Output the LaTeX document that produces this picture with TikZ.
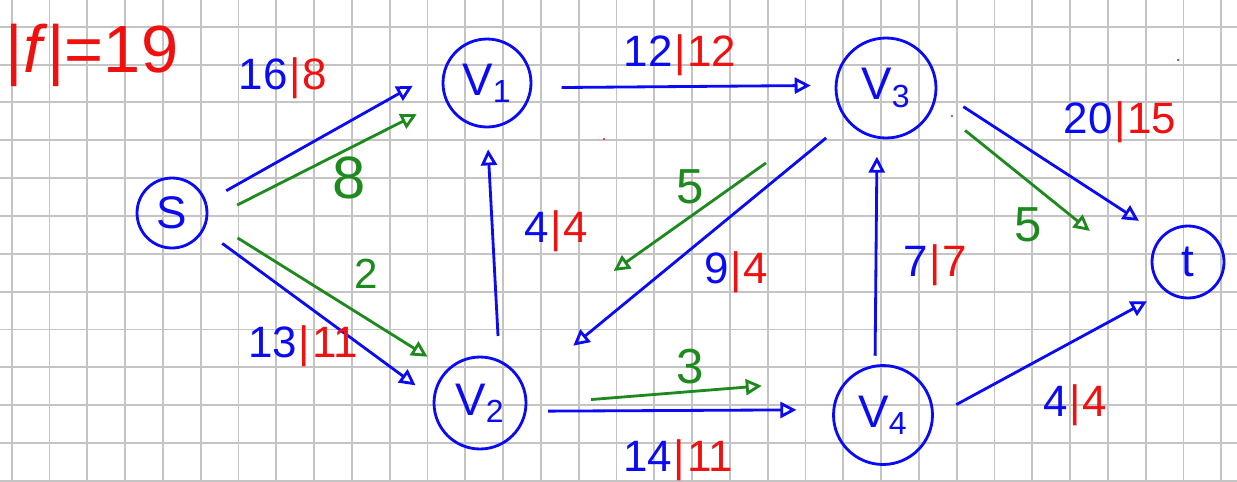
\documentclass[tikz,border=0pt]{standalone}
\usepackage{fontspec}
\setmainfont{Liberation Sans}
\usetikzlibrary{arrows.meta}
\definecolor{capblue}{HTML}{0A0AF5}
\definecolor{flowred}{HTML}{F01010}
\definecolor{augreen}{HTML}{1E8A1E}
\definecolor{gridgray}{HTML}{C4C4C4}
\newcommand{\capflow}[2]{\textcolor{capblue}{#1}\textcolor{flowred}{\kern1pt|\kern1pt#2}}
\tikzset{
  vertex/.style={circle, draw=capblue, line width=1.6pt, text=capblue, inner sep=0pt, font=\fontsize{26}{26}\selectfont},
  capedge/.style={-{Triangle[open, length=3.2mm, width=3.2mm]}, line width=1.6pt, color=capblue},
  flowedge/.style={-{Triangle[open, length=3.2mm, width=3.2mm]}, line width=1.6pt, color=augreen},
  gridline/.style={line width=1.1pt, color=gridgray},
  caplabel/.style={font=\fontsize{25}{25}\selectfont},
  flowlabel/.style={text=augreen, font=\fontsize{28}{28}\selectfont}
}

\begin{document}
\begin{tikzpicture}[x=0.02cm, y=-0.02cm]
\useasboundingbox (0,0) rectangle (1237,481);
\fill[white] (0,0) rectangle (1237,481);
\foreach \i in {0,...,32} \draw[gridline] ({11.7+37.8*\i},0) -- ({11.7+37.8*\i},481);
\foreach \j in {0,...,12} \draw[gridline] (0,{26.7+37.85*\j}) -- (1237,{26.7+37.85*\j});

\node[vertex, minimum size=1.4cm] (s) at (172,213) {S};
\node[vertex, minimum size=1.76cm] (v1) at (487,83) {V\textsubscript{1}};
\node[vertex, minimum size=1.84cm] (v2) at (480,403) {V\textsubscript{2}};
\node[vertex, minimum size=2cm] (v3) at (886,88) {V\textsubscript{3}};
\node[vertex, minimum size=1.98cm] (v4) at (883,415) {V\textsubscript{4}};
\node[vertex, minimum size=1.44cm] (t) at (1188,262) {t};

\draw[capedge, shorten <=0.45cm, shorten >=0.72cm] (s.18) -- (v1.161);
\draw[capedge, shorten <=0.45cm, shorten >=0.43cm] (s.-28.5) -- (v2.174.4);
\draw[capedge, shorten <=0.475cm, shorten >=0.42cm] (v2.66.8) -- (v1.-90);
\draw[capedge, shorten <=0.59cm, shorten >=0.48cm] (v1.-6.5) -- (v3.177.7);
\draw[capedge, shorten <=0.53cm, shorten >=1.27cm] (v3.-140.1) -- (v2.21.2);
\draw[capedge, shorten <=0.43cm, shorten >=0.72cm] (v2.-10) -- (v4.174.2);
\draw[capedge, shorten <=0.18cm, shorten >=0.36cm] (v4.99.3) -- (v3.-100.4);
\draw[capedge, shorten <=0.62cm, shorten >=0.54cm] (v3.-2.4) -- (t.135);
\draw[capedge, shorten <=0.51cm, shorten >=0.41cm] (v4.-2.7) -- (t.-128.1);

\draw[flowedge, shorten <=0.66cm, shorten >=0.63cm] (s.-11.5) -- (v1.-158.8);
\draw[flowedge, shorten <=0.70cm, shorten >=0.46cm] (s.-10.7) -- (v2.134.7);
\draw[flowedge, shorten <=1.81cm, shorten >=2.98cm] (v3.-154.7) -- (v2.75.1);
\draw[flowedge, shorten <=1.28cm, shorten >=1.71cm] (v2.-2.4) -- (v4.135.8);
\draw[flowedge, shorten <=0.79cm, shorten >=1.93cm] (v3.-20.2) -- (t.-128.6);

\node[caplabel] (c-sv1) at (283,78) {\capflow{16}{8}};
\node[caplabel] (c-sv2) at (303,346) {\capflow{13}{11}};
\node[caplabel] (c-v2v1) at (556,231) {\capflow{4}{4}};
\node[caplabel] (c-v1v3) at (680,55) {\capflow{12}{12}};
\node[caplabel] (c-v3v2) at (736,272) {\capflow{9}{4}};
\node[caplabel] (c-v2v4) at (678,460) {\capflow{14}{11}};
\node[caplabel] (c-v4v3) at (935,265) {\capflow{7}{7}};
\node[caplabel] (c-v3t) at (1120,122) {\capflow{20}{15}};
\node[caplabel] (c-v4t) at (1075,405) {\capflow{4}{4}};

\node[flowlabel, font=\fontsize{34}{34}\selectfont] (f-sv1) at (349,178) {8};
\node[flowlabel, font=\fontsize{24}{24}\selectfont] (f-sv2) at (366,274) {2};
\node[flowlabel] (f-v3v2) at (690,187) {5};
\node[flowlabel] (f-v2v4) at (690,367) {3};
\node[flowlabel] (f-v3t) at (1028,225) {5};

\node[text=flowred, font=\fontsize{38}{38}\selectfont] (value) at (92,55) {|\textit{f}|=19};

\fill[flowred] (604,139) circle (0.7pt);
\fill[flowred] (1178,60) circle (0.7pt);
\fill[black!70] (952,116) circle (0.6pt);
\end{tikzpicture}
\end{document}
